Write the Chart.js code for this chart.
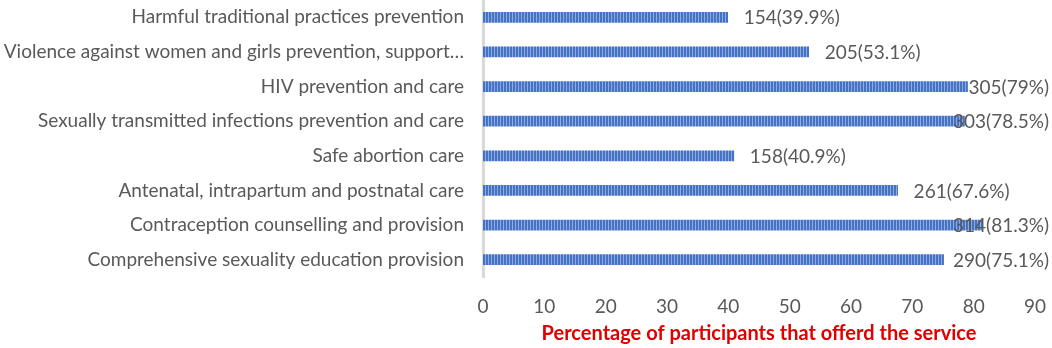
<!DOCTYPE html>
<html>
<head>
<meta charset="utf-8">
<script src="https://cdn.jsdelivr.net/npm/chart.js@4.4.1/dist/chart.umd.min.js"></script>
<style>
  html, body { margin: 0; padding: 0; background: #fff; }
  #wrap { width: 1052px; height: 348px; }
</style>
</head>
<body>
<div id="wrap"><canvas id="chart"></canvas></div>
<script>
const services = [
    "Harmful traditional practices prevention",
    "Violence against women and girls prevention, support…",
    "HIV prevention and care",
    "Sexually transmitted infections prevention and care",
    "Safe abortion care",
    "Antenatal, intrapartum and postnatal care",
    "Contraception counselling and provision",
    "Comprehensive sexuality education provision"
];
const counts = [154, 205, 305, 303, 158, 261, 314, 290];
const percents = [39.9, 53.1, 79, 78.5, 40.9, 67.6, 81.3, 75.1];
const xTicks = [0, 10, 20, 30, 40, 50, 60, 70, 80, 90];

const FONT = "Lato, 'Open Sans', sans-serif";
const GREY = "#595959";

// striped fill like the original bars
function stripePattern() {
    const c = document.createElement("canvas");
    c.width = 3; c.height = 10;
    const g = c.getContext("2d");
    g.fillStyle = "#4472C4";
    g.fillRect(0, 0, 3, 10);
    g.fillStyle = "#8FAADC";
    g.fillRect(2, 0, 1, 10);
    return g.createPattern(c, "repeat");
}

// "count(pct%)" next to each bar, pushed back inside the canvas if too long
const valueLabels = {
    id: "valueLabels",
    afterDatasetsDraw(chart) {
        const ctx = chart.ctx;
        const meta = chart.getDatasetMeta(0);
        ctx.save();
        ctx.font = "19px " + FONT;
        ctx.fillStyle = GREY;
        ctx.textBaseline = "middle";
        meta.data.forEach((bar, i) => {
            const txt = counts[i] + "(" + percents[i] + "%)";
            const w = ctx.measureText(txt).width;
            let x = bar.x + 16;
            if (x + w > chart.width - 3) x = chart.width - 3 - w;
            ctx.fillText(txt, x, bar.y + 1);
        });
        ctx.restore();
    }
};

new Chart(document.getElementById("chart"), {
    type: "bar",
    data: {
        labels: services,
        datasets: [{
            data: percents,
            backgroundColor: stripePattern(),
            borderWidth: 0,
            barThickness: 10
        }]
    },
    options: {
        indexAxis: "y",
        responsive: true,
        maintainAspectRatio: false,
        animation: false,
        layout: { padding: { top: 0, right: 17, bottom: 2, left: 0 } },
        plugins: {
            legend: { display: false },
            tooltip: { enabled: false }
        },
        scales: {
            x: {
                min: 0,
                max: 90,
                afterBuildTicks: s => { s.ticks = xTicks.map(v => ({ value: v })); },
                afterFit: s => { s.height = 69; s.paddingLeft = 0; s.paddingRight = 0; },
                grid: { display: false, drawTicks: false },
                border: { display: false },
                ticks: { color: GREY, font: { family: FONT, size: 19 }, padding: 18 },
                title: {
                    display: true,
                    text: "Percentage of participants that offerd the service",
                    color: "#E00000",
                    font: { family: FONT, size: 20, weight: "bold" },
                    padding: { top: 3, bottom: 0 }
                }
            },
            y: {
                afterFit: s => { s.width = 483; s.paddingTop = 0; s.paddingBottom = 0; },
                grid: { display: false, drawTicks: false },
                border: { display: true, color: "#D9D9D9", width: 3 },
                ticks: { color: GREY, font: { family: FONT, size: 19 }, padding: 19, autoSkip: false }
            }
        }
    },
    plugins: [valueLabels]
});
</script>
</body>
</html>
